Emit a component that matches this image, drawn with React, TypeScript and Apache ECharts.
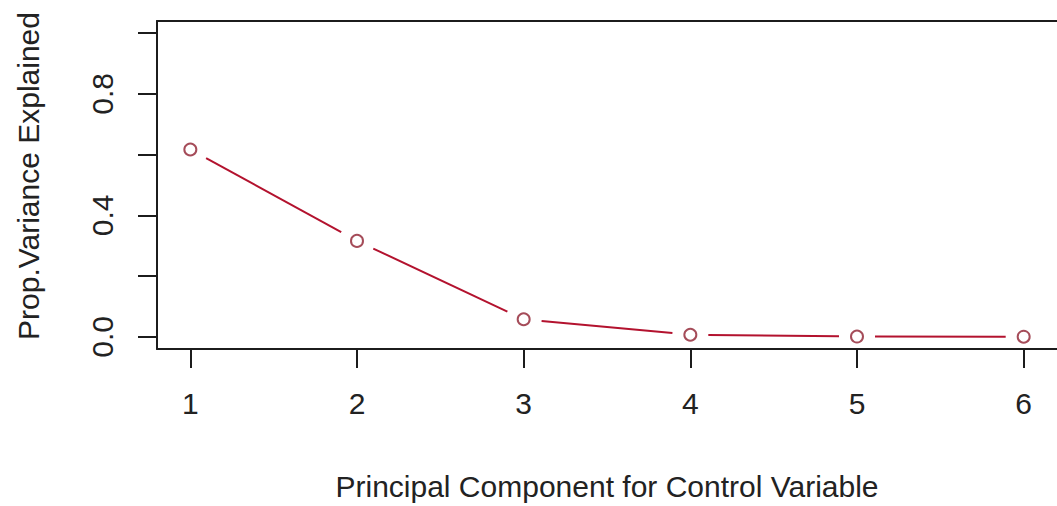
import React, { useEffect, useRef } from "react";
import * as echarts from "echarts";

const components = [1, 2, 3, 4, 5, 6];
const propVariance = [0.617, 0.316, 0.058, 0.007, 0.001, 0.0005];
const yTicks = [0, 0.2, 0.4, 0.6, 0.8, 1.0];
const yLabels = [0, 0.4, 0.8];
const xTicks = [1, 2, 3, 4, 5, 6];
const xTitle = "Principal Component for Control Variable";
const yTitle = "Prop.Variance Explained";

const FONT = "'Liberation Sans', Arial, sans-serif";
const LINE_COLOR = "#b3122e";
const POINT_COLOR = "#8e1f30";
const AXIS_COLOR = "#1c1c1c";
const TEXT_COLOR = "#222";

export default function App() {
  const ref = useRef<HTMLDivElement>(null);
  useEffect(() => {
    document.body.style.margin = "0";
    const chart = echarts.init(ref.current!, null, { renderer: "svg" });
    const points = components.map((c, i) => [c, propVariance[i]]);
    const segments = points.slice(0, -1).map((p, i) => [p[0], p[1], points[i + 1][0], points[i + 1][1]]);
    const GAP = 18;
    chart.setOption({
      animation: false,
      backgroundColor: "#ffffff",
      grid: {
        left: 157,
        top: 21,
        width: 902,
        height: 328,
        show: false,
      },
      graphic: [
        {
          type: "text",
          x: 28,
          y: 176,
          rotation: Math.PI / 2,
          style: {
            text: yTitle,
            fontSize: 30,
            fontFamily: FONT,
            fill: TEXT_COLOR,
            align: "center",
            verticalAlign: "middle",
          },
        },
      ],
      xAxis: [
        {
          type: "value",
          min: 0.8,
          max: 6.2,
          splitLine: { show: false },
          axisLine: { show: true, onZero: false, lineStyle: { color: AXIS_COLOR, width: 2 } },
          axisTick: { show: true, length: 19, inside: false, customValues: xTicks, lineStyle: { color: AXIS_COLOR, width: 2 } },
          axisLabel: {
            customValues: xTicks,
            margin: 39,
            fontSize: 30,
            fontFamily: FONT,
            color: TEXT_COLOR,
            formatter: (v: number) => String(v),
          },
          name: xTitle,
          nameLocation: "middle",
          nameGap: 122,
          nameTextStyle: { fontSize: 30, fontFamily: FONT, color: TEXT_COLOR },
        },
        {
          type: "value",
          position: "top",
          min: 0.8,
          max: 6.2,
          splitLine: { show: false },
          axisLine: { show: true, onZero: false, lineStyle: { color: AXIS_COLOR, width: 2 } },
          axisTick: { show: false },
          axisLabel: { show: false },
        },
      ],
      yAxis: {
        type: "value",
        min: -0.04,
        max: 1.04,
        splitLine: { show: false },
        axisLine: { show: true, onZero: false, lineStyle: { color: AXIS_COLOR, width: 2 } },
        axisTick: { show: true, length: 19, inside: false, customValues: yTicks, lineStyle: { color: AXIS_COLOR, width: 2 } },
        axisLabel: {
          customValues: yLabels,
          rotate: 90,
          margin: 40,
          fontSize: 30,
          fontFamily: FONT,
          color: TEXT_COLOR,
          formatter: (v: number) => v.toFixed(1),
        },
      },
      series: [
        {
          type: "custom",
          data: segments,
          renderItem: (params: any, api: any) => {
            const a = api.coord([api.value(0), api.value(1)]);
            const b = api.coord([api.value(2), api.value(3)]);
            const dx = b[0] - a[0];
            const dy = b[1] - a[1];
            const len = Math.sqrt(dx * dx + dy * dy);
            if (len <= 2 * GAP) return null;
            const ux = dx / len;
            const uy = dy / len;
            return {
              type: "line",
              shape: {
                x1: a[0] + ux * GAP,
                y1: a[1] + uy * GAP,
                x2: b[0] - ux * GAP,
                y2: b[1] - uy * GAP,
              },
              style: { stroke: LINE_COLOR, lineWidth: 2 },
            };
          },
          encode: { x: [0, 2], y: [1, 3] },
          z: 2,
        },
        {
          type: "scatter",
          data: points,
          symbol: "circle",
          symbolSize: 12,
          itemStyle: { color: "transparent", borderColor: POINT_COLOR, borderWidth: 2 },
          z: 3,
        },
      ],
    });
    return () => chart.dispose();
  }, []);
  return <div ref={ref} style={{ width: 1057, height: 506 }} />;
}
